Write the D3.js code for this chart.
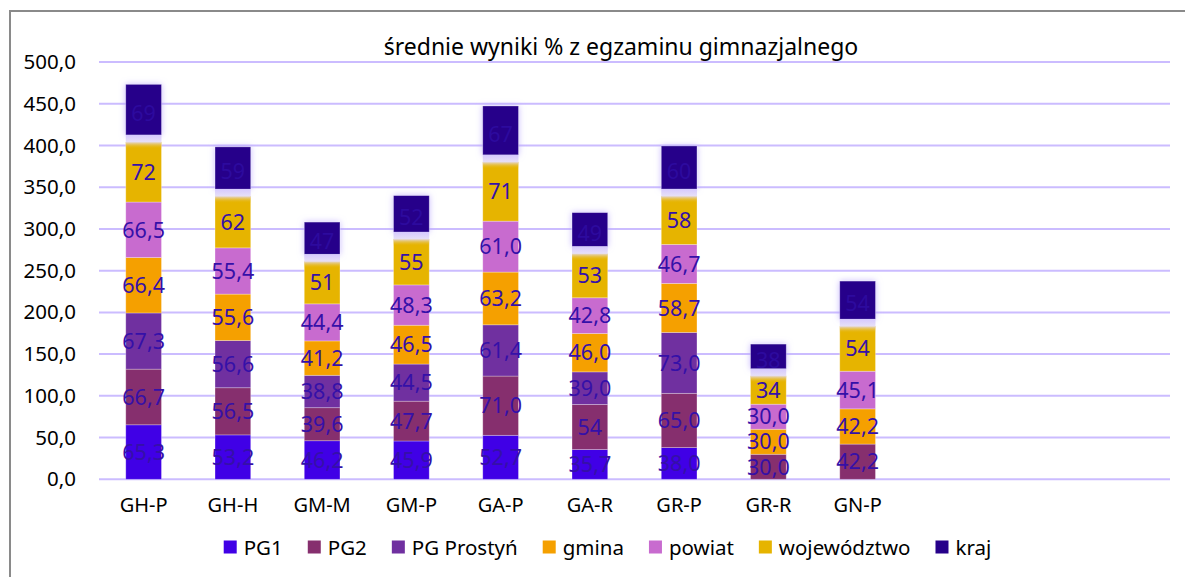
<!DOCTYPE html>
<html>
<head>
<meta charset="utf-8">
<script src="https://cdn.jsdelivr.net/npm/d3@7"></script>
<style>
    body { margin: 0; background: #fff; }
    svg text { font-family: "Noto Sans", "Open Sans", sans-serif; }
</style>
</head>
<body>
<div id="chartDiv"></div>
<script>
const categories = ["GH-P", "GH-H", "GM-M", "GM-P", "GA-P", "GA-R", "GR-P", "GR-R", "GN-P"];
const seriesNames = ["PG1", "PG2", "PG Prostyń", "gmina", "powiat", "województwo", "kraj"];

const pg1 = [65.3, 53.2, 46.2, 45.9, 52.7, 35.7, 38.0, null, null];
const pg2 = [66.7, 56.5, 39.6, 47.7, 71.0, 54, 65.0, 30.0, 42.2];
const pgProstyn = [67.3, 56.6, 38.8, 44.5, 61.4, 39.0, 73.0, null, null];
const gmina = [66.4, 55.6, 41.2, 46.5, 63.2, 46.0, 58.7, 30.0, 42.2];
const powiat = [66.5, 55.4, 44.4, 48.3, 61.0, 42.8, 46.7, 30.0, 45.1];
const wojewodztwo = [72, 62, 51, 55, 71, 53, 58, 34, 54];
const kraj = [69, 59, 47, 52, 67, 49, 60, 38, 54];

const yTicks = [0, 50, 100, 150, 200, 250, 300, 350, 400, 450, 500];
const colors = ["#4000e6", "#862f6e", "#7030a0", "#f5a000", "#c86bcf", "#e6b400", "#26008a"];
// labels shown without decimals
const plainLabels = ["GA-R|PG2"];

const width = 1185, height = 577;
const nSlots = 12; // the axis has room for 12 columns, only 9 used
const margin = {top: 62, left: 99, right: 1170, bottom: 479.3};

const allSeries = [pg1, pg2, pgProstyn, gmina, powiat, wojewodztwo, kraj];

const plLocale = d3.formatLocale({decimal: ",", thousands: " ", grouping: [3], currency: ["", " zł"]});
const fmt1 = plLocale.format(".1f");
const fmt0 = plLocale.format(".0f");

let svg = d3.select("#chartDiv").append("svg")
    .attr("width", width)
    .attr("height", height);

let defs = svg.append("defs");
let glow = defs.append("filter").attr("id", "glow")
    .attr("x", "-40%").attr("y", "-40%").attr("width", "180%").attr("height", "180%");
glow.append("feGaussianBlur").attr("in", "SourceAlpha").attr("stdDeviation", 3).attr("result", "blur");
glow.append("feFlood").attr("flood-color", "#b9a6ff").attr("flood-opacity", 0.8);
glow.append("feComposite").attr("in2", "blur").attr("operator", "in").attr("result", "halo");
let merge = glow.append("feMerge");
merge.append("feMergeNode").attr("in", "halo");
merge.append("feMergeNode").attr("in", "SourceGraphic");

let band = defs.append("linearGradient").attr("id", "band")
    .attr("x1", 0).attr("y1", 0).attr("x2", 0).attr("y2", 1);
band.append("stop").attr("offset", "0%").attr("stop-color", "#d6c9ff").attr("stop-opacity", 1);
band.append("stop").attr("offset", "50%").attr("stop-color", "#e4dcf6").attr("stop-opacity", 0.9);
band.append("stop").attr("offset", "100%").attr("stop-color", "#e6b400").attr("stop-opacity", 0);

// chart frame
svg.append("line").attr("x1", 9).attr("x2", width).attr("y1", 11).attr("y2", 11)
    .attr("stroke", "#8a8a8a").attr("stroke-width", 2);
svg.append("line").attr("x1", 10).attr("x2", 10).attr("y1", 11).attr("y2", height)
    .attr("stroke", "#8a8a8a").attr("stroke-width", 2);

let x = d3.scaleBand()
    .domain(d3.range(nSlots))
    .range([margin.left, margin.right])
    .paddingInner(0.6)
    .paddingOuter(0.3);

let y = d3.scaleLinear()
    .domain([0, 500])
    .range([margin.bottom, margin.top]);

// gridlines
svg.append("g")
    .selectAll("line")
    .data(yTicks)
    .enter()
    .append("line")
    .attr("x1", margin.left)
    .attr("x2", margin.right)
    .attr("y1", d => y(d))
    .attr("y2", d => y(d))
    .attr("stroke", "#cbbcff")
    .attr("stroke-width", 2);

let yAxis = d3.axisLeft(y)
    .tickValues(yTicks)
    .tickSize(0)
    .tickPadding(23)
    .tickFormat(d => fmt1(d));

svg.append("g")
    .attr("transform", `translate(${margin.left}, 0)`)
    .call(yAxis)
    .call(g => g.select(".domain").remove())
    .selectAll("text")
    .style("font-size", "20.5px")
    .attr("fill", "#000");

let xAxis = d3.axisBottom(x)
    .tickSize(0)
    .tickPadding(19)
    .tickFormat(i => categories[i] || "");

svg.append("g")
    .attr("transform", `translate(0, ${margin.bottom})`)
    .call(xAxis)
    .call(g => g.select(".domain").remove())
    .selectAll("text")
    .style("font-size", "20px")
    .attr("fill", "#000");

// stack data
let stackRows = categories.map((c, i) => {
    let row = {idx: i, name: c};
    seriesNames.forEach((s, k) => row[s] = allSeries[k][i] || 0);
    return row;
});
let stacked = d3.stack().keys(seriesNames)(stackRows);

const krajIdx = seriesNames.length - 1;
const bandPx = 7;

let layers = svg.append("g").selectAll("g.layer")
    .data(stacked)
    .enter()
    .append("g")
    .attr("class", "layer")
    .attr("fill", (d, k) => colors[k]);

layers.selectAll("rect")
    .data((d, k) => d.map(p => ({p: p, k: k})).filter(e => e.p[1] - e.p[0] > 0))
    .enter()
    .append("rect")
    .attr("x", e => x(e.p.data.idx))
    .attr("width", x.bandwidth())
    .attr("y", e => y(e.p[1]))
    .attr("height", e => y(e.p[0]) - y(e.p[1]) - (e.k === krajIdx ? bandPx : 0))
    .attr("stroke", "rgba(255,255,255,0.35)")
    .attr("stroke-width", 0.8)
    .attr("filter", e => e.k === krajIdx ? "url(#glow)" : null);

// light band under the kraj box
svg.append("g").selectAll("rect")
    .data(stacked[krajIdx].filter(p => p[1] - p[0] > 0))
    .enter()
    .append("rect")
    .attr("x", p => x(p.data.idx))
    .attr("width", x.bandwidth())
    .attr("y", p => y(p[0]) - bandPx)
    .attr("height", bandPx * 2)
    .attr("fill", "url(#band)");

// data labels
let labels = svg.append("g");
stacked.forEach((layer, k) => {
    labels.selectAll(null)
        .data(layer.filter(p => p[1] - p[0] > 0))
        .enter()
        .append("text")
        .attr("x", p => x(p.data.idx) + x.bandwidth() / 2)
        .attr("y", p => (y(p[0]) + y(p[1])) / 2)
        .attr("dy", "0.36em")
        .attr("text-anchor", "middle")
        .style("font-size", "21.5px")
        .attr("fill", k === krajIdx ? "#2d0a9e" : "#3510a8")
        .text(p => {
            let v = p[1] - p[0];
            if (k >= 5 || plainLabels.includes(p.data.name + "|" + seriesNames[k])) return fmt0(v);
            return fmt1(v);
        });
});

// title
svg.append("text")
    .attr("x", 621)
    .attr("y", 47)
    .attr("dy", "0.35em")
    .attr("text-anchor", "middle")
    .style("font-size", "23px")
    .attr("fill", "#000")
    .text("średnie wyniki % z egzaminu gimnazjalnego");

// legend
let legend = svg.append("g");
let lx = 0;
seriesNames.forEach((s, k) => {
    let item = legend.append("g").attr("transform", `translate(${lx}, 0)`);
    item.append("rect")
        .attr("x", 0).attr("y", -7)
        .attr("width", 13).attr("height", 13)
        .attr("fill", colors[k]);
    let t = item.append("text")
        .attr("x", 20)
        .attr("y", 0)
        .attr("dy", "0.35em")
        .style("font-size", "20.5px")
        .attr("fill", "#000")
        .text(s);
    lx += 20 + t.node().getComputedTextLength() + 25;
});
lx -= 25;
legend.attr("transform", `translate(${607.5 - lx / 2}, 547.5)`);
</script>
</body>
</html>
